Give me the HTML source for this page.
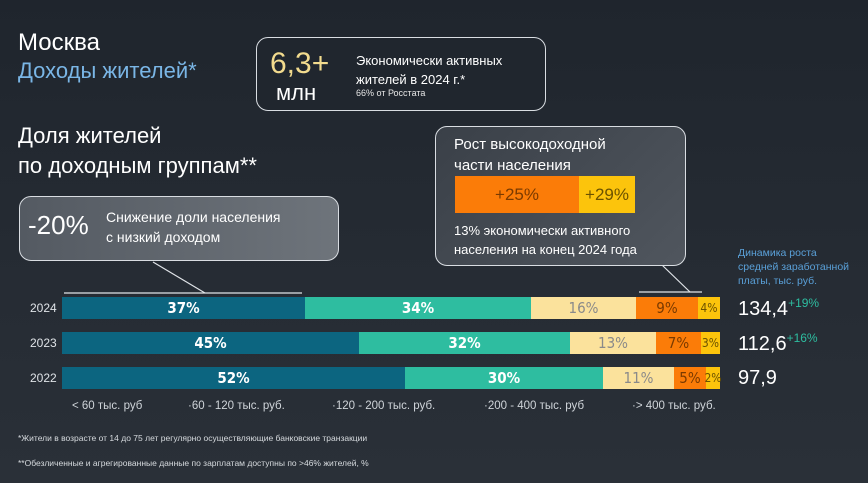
<!DOCTYPE html>
<html><head><meta charset="utf-8"><style>
*{margin:0;padding:0;box-sizing:border-box}
body{width:868px;height:483px;overflow:hidden;background:linear-gradient(180deg,#1f252d 0%,#262c34 60%,#2a3038 100%);font-family:"Liberation Sans","DejaVu Sans",sans-serif;color:#fff;position:relative}
.a{position:absolute;white-space:nowrap}
.box{position:absolute;border:1.5px solid #d9dde2;border-radius:12px}
.bar{position:absolute;left:62px;width:658px;height:22px;display:flex}
.bar div{height:100%;display:flex;align-items:center;justify-content:center;font-size:15px;font-weight:bold;font-family:"Liberation Sans Narrow","DejaVu Sans Condensed",sans-serif}
.c1{background:#0c6580;color:#fff}.c2{background:#2ebda0;color:#fff}.c3{background:#fbe29c;color:#8a8a8a;font-weight:normal!important}.c4{background:#fb7c08;color:#7a3a00;font-weight:normal!important}.c5{background:#fcc40c;color:#6b5200;font-size:12px!important;font-weight:normal!important}
.yr{position:absolute;left:30px;font-size:12px;color:#dfe3e7}
.leg{position:absolute;top:400px;font-size:11.5px;color:#cfd4d9}
.val{position:absolute;left:738px;font-size:20px;color:#fff}
.val sup{font-size:12px;color:#2ebda0;vertical-align:8px}
</style></head><body>
<div class="a" style="left:18px;top:29px;font-size:24px;color:#fff">Москва</div>
<div class="a" style="left:18px;top:58px;font-size:22px;color:#7ab6e6">Доходы жителей*</div>
<div class="a" style="left:18px;top:123px;font-size:22px;color:#fff">Доля жителей</div>
<div class="a" style="left:18px;top:153px;font-size:22px;color:#fff">по доходным группам**</div>

<div class="box" style="left:256px;top:37px;width:290px;height:74px;background:#20262e"></div>
<div class="a" style="left:270px;top:47px;font-size:30px;color:#f2db8e">6,3+</div>
<div class="a" style="left:276px;top:80px;font-size:22px;color:#fff">млн</div>
<div class="a" style="left:356px;top:53px;font-size:13px;color:#fff">Экономически активных</div>
<div class="a" style="left:356px;top:72px;font-size:13px;color:#fff">жителей в 2024 г.*</div>
<div class="a" style="left:356px;top:88px;font-size:9px;color:#e6e6e6">66% от Росстата</div>

<div class="box" style="left:19px;top:196px;width:320px;height:65px;background:linear-gradient(90deg,#545a62,#6e747b)"></div>
<div class="a" style="left:28px;top:210px;font-size:26px;color:#fff">-20%</div>
<div class="a" style="left:106px;top:209px;font-size:14px;color:#fff">Снижение доли населения</div>
<div class="a" style="left:106px;top:229px;font-size:14px;color:#fff">с низкий доходом</div>
<svg class="a" style="left:0;top:0" width="868" height="483"><g stroke="#e0e4e8" stroke-width="1.2" fill="none">
<line x1="153" y1="262" x2="205" y2="293"/><line x1="64" y1="293" x2="302" y2="293"/>
<line x1="662" y1="265" x2="690" y2="292"/><line x1="639" y1="292" x2="702" y2="292"/></g></svg>

<div class="box" style="left:435px;top:126px;width:251px;height:140px;background:linear-gradient(135deg,#3a4048,#50565e)"></div>
<div class="a" style="left:454px;top:136px;font-size:15px;color:#fff">Рост высокодоходной</div>
<div class="a" style="left:454px;top:157px;font-size:15px;color:#fff">части населения</div>
<div class="a" style="left:455px;top:176px;width:124px;height:37px;background:#fb7c08;color:#7a3a00;font-size:17px;display:flex;align-items:center;justify-content:center">+25%</div>
<div class="a" style="left:579px;top:176px;width:56px;height:37px;background:#fcc40c;color:#6b5200;font-size:17px;display:flex;align-items:center;justify-content:center">+29%</div>
<div class="a" style="left:454px;top:223px;font-size:13px;color:#fff">13% экономически активного</div>
<div class="a" style="left:454px;top:242px;font-size:13px;color:#fff">населения на конец 2024 года</div>

<div class="a" style="left:738px;top:246px;font-size:10.5px;line-height:14px;color:#5aa0d8">Динамика роста<br>средней заработанной<br>платы, тыс. руб.</div>

<div class="yr" style="top:301px">2024</div>
<div class="yr" style="top:336px">2023</div>
<div class="yr" style="top:371px">2022</div>
<div class="bar" style="top:297px"><div class="c1" style="width:243px">37%</div><div class="c2" style="width:226px">34%</div><div class="c3" style="width:105px">16%</div><div class="c4" style="width:62px">9%</div><div class="c5" style="width:22px">4%</div></div>
<div class="bar" style="top:332px"><div class="c1" style="width:297px">45%</div><div class="c2" style="width:211px">32%</div><div class="c3" style="width:86px">13%</div><div class="c4" style="width:45px">7%</div><div class="c5" style="width:19px">3%</div></div>
<div class="bar" style="top:367px"><div class="c1" style="width:343px">52%</div><div class="c2" style="width:198px">30%</div><div class="c3" style="width:71px">11%</div><div class="c4" style="width:32px">5%</div><div class="c5" style="width:14px">2%</div></div>

<div class="val" style="top:296px">134,4<sup>+19%</sup></div>
<div class="val" style="top:331px">112,6<sup>+16%</sup></div>
<div class="val" style="top:367px">97,9</div>

<div class="leg" style="left:72px">&lt; 60 тыс. руб</div>
<div class="leg" style="left:188px">·60 - 120 тыс. руб.</div>
<div class="leg" style="left:332px">·120 - 200 тыс. руб.</div>
<div class="leg" style="left:484px">·200 - 400 тыс. руб</div>
<div class="leg" style="left:632px">·&gt; 400 тыс. руб.</div>

<div class="a" style="left:18px;top:433px;font-size:8.5px;color:#d6dade">*Жители в возрасте от 14 до 75 лет регулярно осуществляющие банковские транзакции</div>
<div class="a" style="left:18px;top:458px;font-size:8.5px;color:#d6dade">**Обезличенные и агрегированные данные по зарплатам доступны по  &gt;46% жителей, %</div>
</body></html>
